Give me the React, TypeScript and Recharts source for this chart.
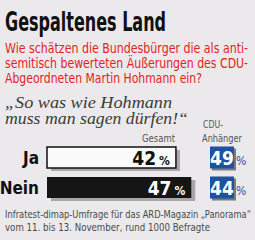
import React from 'react';
import { BarChart, Bar, XAxis, YAxis, LabelList } from 'recharts';

// Umfragewerte
const categories = ['Ja', 'Nein'];
const gesamtValues = [42, 47];
const cduValues = [49, 44];

const title = 'Gespaltenes Land';
const questionLines = [
    'Wie schätzen die Bundesbürger die als anti-',
    'semitisch bewerteten Äußerungen des CDU-',
    'Abgeordneten Martin Hohmann ein?',
];
const quoteLines = ['„So was wie Hohmann', 'muss man sagen dürfen!“'];
const columnLabels = ['Gesamt', 'CDU-', 'Anhänger'];
const sourceLines = [
    'Infratest-dimap-Umfrage für das ARD-Magazin „Panorama“',
    'vom 11. bis 13. November, rund 1000 Befragte',
];

const data = categories.map((name, i) => ({
    name,
    gesamt: gesamtValues[i],
    cdu: cduValues[i],
}));

const NARROW = "'Liberation Sans Narrow', 'DejaVu Sans Condensed', 'Liberation Sans', sans-serif";
const BLUE = '#1d52a3';
const RED = '#e3231f';

/**
 * Schmal gesetzte Textzeile (horizontal gestaucht)
 */
const NarrowLine = ({ x, y, width, sx, children, ...rest }: any) => (
    <text
        x={x / sx}
        y={y}
        transform={`scale(${sx},1)`}
        textLength={width / sx}
        lengthAdjust="spacingAndGlyphs"
        fontFamily={NARROW}
        {...rest}
    >
        {children}
    </text>
);

/**
 * Balken mit grauem Schatten
 */
const ShadowBar = (props: any) => {
    const { x, y, width, height, index } = props;
    const dark = index === 1;
    return (
        <g>
            <rect x={x + 4} y={y + 3} width={width} height={height} fill="#aaa7aa" />
            <rect
                x={x}
                y={y}
                width={width}
                height={height}
                fill={dark ? '#151515' : '#fafafa'}
                stroke="#111"
                strokeWidth={dark ? 0 : 1.5}
            />
        </g>
    );
};

const YTick = ({ x, y, payload }: any) => (
    <text
        x={x}
        y={y}
        dy={7}
        textAnchor="end"
        fontFamily={NARROW}
        fontWeight="bold"
        fontSize={17}
        fill="#111"
    >
        {payload.value}
    </text>
);

const ValueLabel = (props: any) => {
    const { x, y, width, height, value, index } = props;
    return (
        <text
            x={x + width - 6}
            y={y + height / 2 + 7}
            textAnchor="end"
            fontFamily={NARROW}
            fontWeight="bold"
            fill={index === 1 ? '#fff' : '#111'}
        >
            <tspan fontSize={19}>{value}</tspan>
            <tspan fontSize={12} dx={3}>%</tspan>
        </text>
    );
};

// blaue Kästchen für CDU-Anhänger
const CduLabel = (props: any) => {
    const { y, height, value } = props;
    const cx = 222;
    const cy = y + height / 2;
    return (
        <g>
            <rect x={cx - 10} y={cy - 9} width={24} height={22} fill="#333" opacity={0.6} />
            <rect x={cx - 12} y={cy - 11} width={24} height={22} fill={BLUE} />
            <text
                x={cx}
                y={cy + 7}
                textAnchor="middle"
                fontFamily={NARROW}
                fontWeight="bold"
                fontSize={19}
                fill="#fff"
            >
                {value}
            </text>
            <text x={cx + 14} y={cy + 7} fontFamily={NARROW} fontSize={12} fill={BLUE}>
                %
            </text>
        </g>
    );
};

export default function App() {
    return (
        <div
            style={{
                position: 'absolute',
                left: 0,
                top: 0,
                width: 255,
                height: 240,
                background: '#ebe9eb',
                overflow: 'hidden',
            }}
        >
            <svg width={255} height={240} style={{ position: 'absolute', left: 0, top: 0 }}>
                <NarrowLine x={5} y={31} width={161} sx={1} fontWeight="bold" fontSize={26} fill="#111">
                    {title}
                </NarrowLine>
                {questionLines.map((line, i) => (
                    <NarrowLine
                        key={i}
                        x={5}
                        y={53 + i * 15}
                        width={[243, 243, 197][i]}
                        sx={0.88}
                        fontSize={13.5}
                        fill={RED}
                    >
                        {line}
                    </NarrowLine>
                ))}
                {quoteLines.map((line, i) => (
                    <text
                        key={i}
                        x={5}
                        y={108 + i * 16}
                        fontFamily="'Liberation Serif', 'DejaVu Serif', serif"
                        fontStyle="italic"
                        fontSize={16}
                        fill="#3a3a3a"
                        textLength={[167, 183][i]}
                        lengthAdjust="spacingAndGlyphs"
                    >
                        {line}
                    </text>
                ))}
                <NarrowLine x={142} y={142} width={33} sx={1} fontSize={11} fill="#555">
                    {columnLabels[0]}
                </NarrowLine>
                <NarrowLine x={203} y={128} width={20} sx={1} fontSize={11} fill="#555">
                    {columnLabels[1]}
                </NarrowLine>
                <NarrowLine x={202} y={142} width={40} sx={1} fontSize={11} fill="#555">
                    {columnLabels[2]}
                </NarrowLine>
                {sourceLines.map((line, i) => (
                    <NarrowLine
                        key={i}
                        x={5}
                        y={218 + i * 13}
                        width={[246, 205][i]}
                        sx={0.82}
                        fontSize={11}
                        fill="#4a4a4a"
                    >
                        {line}
                    </NarrowLine>
                ))}
            </svg>

            <div style={{ position: 'absolute', left: 0, top: 142 }}>
                <BarChart
                    width={255}
                    height={60}
                    data={data}
                    layout="vertical"
                    margin={{ top: 0, right: 54.5, left: 0, bottom: 0 }}
                    barSize={21}
                >
                    <XAxis type="number" domain={[0, 50]} hide />
                    <YAxis
                        type="category"
                        dataKey="name"
                        width={47}
                        axisLine={false}
                        tickLine={false}
                        tick={<YTick />}
                    />
                    <Bar dataKey="gesamt" shape={<ShadowBar />} isAnimationActive={false}>
                        <LabelList dataKey="gesamt" content={<ValueLabel />} />
                        <LabelList dataKey="cdu" content={<CduLabel />} />
                    </Bar>
                </BarChart>
            </div>
        </div>
    );
}
